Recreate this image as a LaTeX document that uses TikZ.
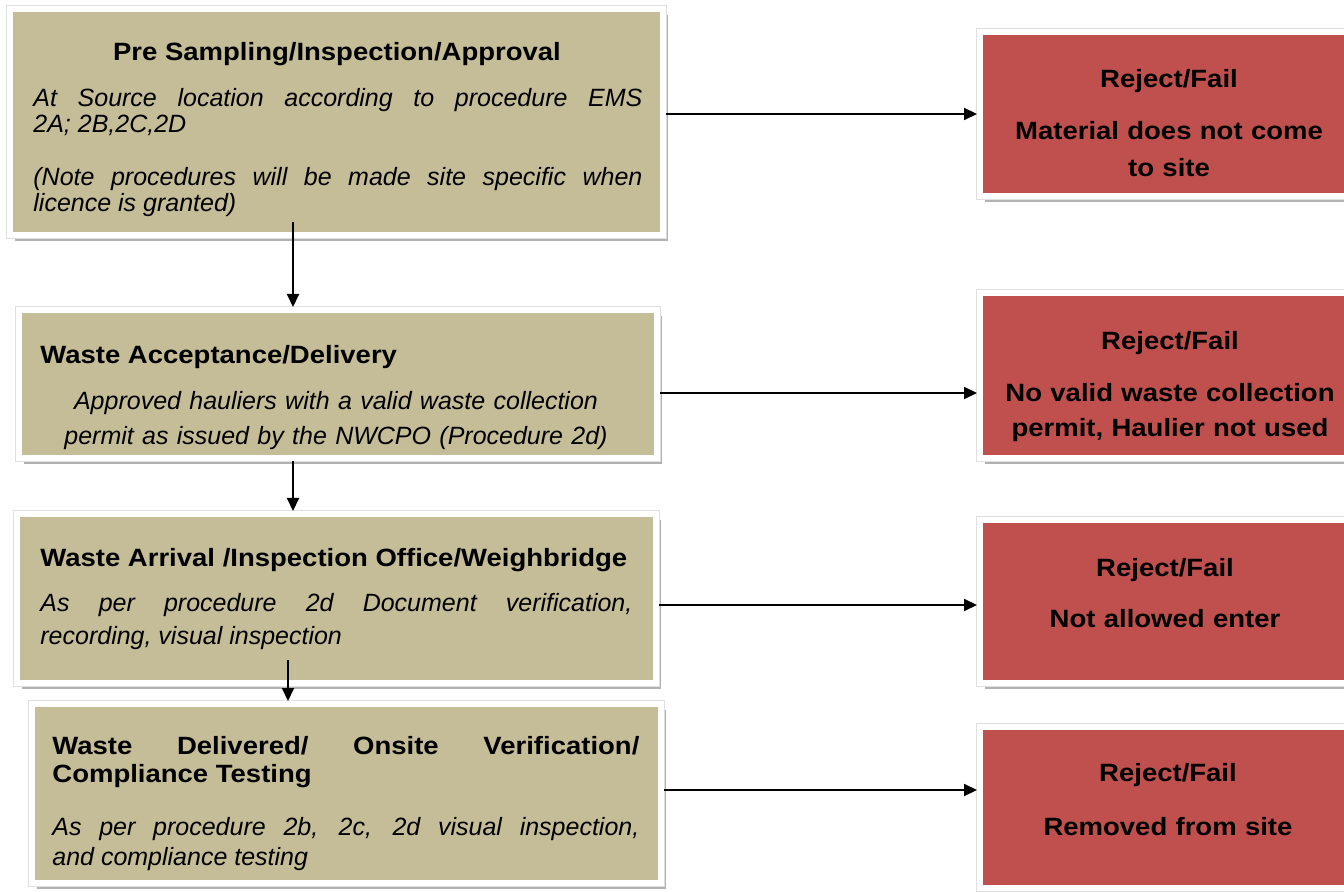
\documentclass[tikz,border=0pt]{standalone}
\usepackage{fontspec}
\setmainfont{Liberation Sans}[BoldFeatures={FakeStretch=1.1}]
\usetikzlibrary{arrows.meta,shadows,calc}
\definecolor{tanfill}{HTML}{C4BD97}
\definecolor{failred}{HTML}{C0504D}
\tikzstyle{bS}=[rectangle,fill=tanfill,draw=white,line width=3pt,inner sep=0pt,drop shadow={shadow xshift=2.5pt,shadow yshift=-3pt,fill=gray!60,opacity=1},preaction={draw=gray!25,line width=3.6pt}]
\tikzstyle{rS}=[bS,fill=failred]
\tikzstyle{hS}=[inner sep=0pt,font=\bfseries\fontsize{12.5}{15}\selectfont]
\tikzstyle{iS}=[inner sep=0pt,font=\itshape\fontsize{12.5}{16.5}\selectfont,align=justify]
\tikzstyle{fS}=[inner sep=0pt,text width=190pt,font=\bfseries\fontsize{12.5}{17.5}\selectfont,align=center]
\tikzstyle{aS}=[line width=1pt,-{Triangle[length=6.5pt,width=6pt]}]

\begin{document}
\begin{tikzpicture}[x=0.5pt,y=-0.5pt]
                \useasboundingbox (0,0) rectangle (1344,892);
                \clip (0,0) rectangle (1344,892);
                % steps
                \draw (336.5,122) node[bS,minimum width=326.5pt,minimum height=113pt] (pre) {};
                \draw (338,384) node[bS,minimum width=319pt,minimum height=74pt] (accept) {};
                \draw (336.5,598.5) node[bS,minimum width=319.5pt,minimum height=84.5pt] (arrive) {};
                \draw (346.5,793.5) node[bS,minimum width=314.5pt,minimum height=89.5pt] (deliver) {};
                % rejections
                \draw (1171.5,114) node[rS,minimum width=191.5pt,minimum height=82pt] (fail1) {};
                \draw (1171.5,375.5) node[rS,minimum width=191.5pt,minimum height=82.5pt] (fail2) {};
                \draw (1171.5,601.5) node[rS,minimum width=191.5pt,minimum height=81.5pt] (fail3) {};
                \draw (1171.5,807.5) node[rS,minimum width=191.5pt,minimum height=80.5pt] (fail4) {};

                \draw (337,61) node[hS,anchor=base] (preH) {Pre Sampling/Inspection/Approval};
                \draw (33,107) node[iS,anchor=base west,text width=304.5pt,font=\itshape\fontsize{12.5}{13}\selectfont] (preB) {At Source location according to procedure EMS\linebreak 2A; 2B,2C,2D};
                \draw (33,186) node[iS,anchor=base west,text width=304.5pt,font=\itshape\fontsize{12.5}{13}\selectfont] (preN) {(Note procedures will be made site specific when\linebreak licence is granted)};

                \draw (40,364) node[hS,anchor=base west] (acceptH) {Waste Acceptance/Delivery};
                \draw (336,410) node[iS,anchor=base,text width=300pt,align=center,font=\itshape\fontsize{12.5}{17.5}\selectfont] (acceptB) {Approved hauliers with a valid waste collection\\permit as issued by the NWCPO (Procedure 2d)};

                \draw (40,567) node[hS,anchor=base west] (arriveH) {Waste Arrival /Inspection Office/Weighbridge};
                \draw (40,612) node[iS,anchor=base west,text width=296pt] (arriveB) {As per procedure 2d Document verification,\linebreak recording, visual inspection};

                \draw (52,754) node[hS,anchor=base west,text width=293.5pt,align=justify,font=\bfseries\fontsize{12.5}{14}\selectfont] (deliverH) {Waste Delivered/ Onsite Verification/\linebreak Compliance Testing};
                \draw (52,835) node[iS,anchor=base west,text width=293.5pt,font=\itshape\fontsize{12.5}{15}\selectfont] (deliverB) {As per procedure 2b, 2c, 2d visual inspection,\linebreak and compliance testing};

                \draw (1169,88) node[fS,anchor=base] (fail1H) {Reject/Fail};
                \draw (1169,140) node[fS,anchor=base,font=\bfseries\fontsize{12.5}{18.5}\selectfont] (fail1B) {Material does not come\\to site};
                \draw (1170,350) node[fS,anchor=base] (fail2H) {Reject/Fail};
                \draw (1170,402) node[fS,anchor=base] (fail2B) {No valid waste collection\\permit, Haulier not used};
                \draw (1165,577) node[fS,anchor=base] (fail3H) {Reject/Fail};
                \draw (1165,628) node[fS,anchor=base] (fail3B) {Not allowed enter};
                \draw (1168,781) node[fS,anchor=base] (fail4H) {Reject/Fail};
                \draw (1168,835) node[fS,anchor=base] (fail4B) {Removed from site};

                % flow down
                \draw[aS] ($(293,0 |- pre.south)+(0,8pt)$) -- (293,0 |- accept.north);
                \draw[aS] (293,0 |- accept.south) -- (293,0 |- arrive.north);
                \draw[aS] ($(288,0 |- arrive.south)+(0,13pt)$) -- (288,0 |- deliver.north);
                % flow to rejections
                \draw[aS] (pre.east |- fail1) -- (fail1);
                \draw[aS] (accept.east |- 0,393) -- (fail2.west |- 0,393);
                \draw[aS] (arrive.east |- 0,605) -- (fail3.west |- 0,605);
                \draw[aS] (deliver.east |- 0,790) -- (fail4.west |- 0,790);
        \end{tikzpicture}
\end{document}
